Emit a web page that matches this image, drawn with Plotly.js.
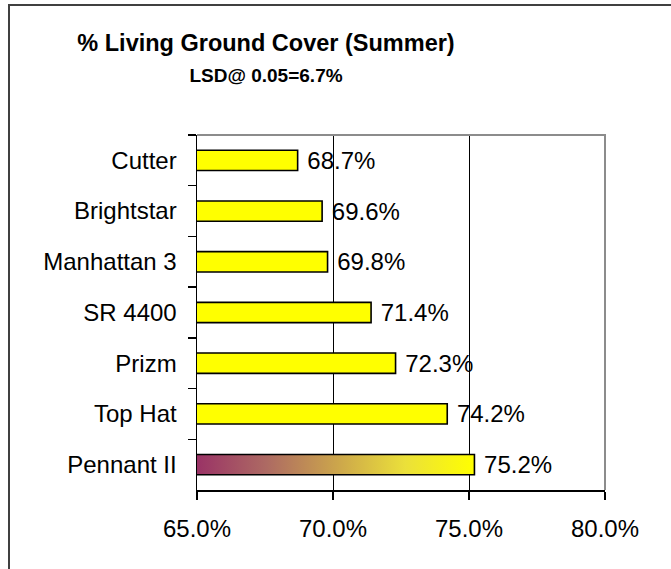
<!DOCTYPE html>
<html>
<head>
<meta charset="utf-8">
<script src="https://cdn.plot.ly/plotly-3.0.1.min.js"></script>
<style>
  html, body { margin: 0; padding: 0; background: #fff; }
  #wrap { position: relative; width: 671px; height: 569px; overflow: hidden; }
  #chart { width: 671px; height: 569px; }
  #frame { position: absolute; left: 8px; top: 4px; width: 700px; height: 600px;
           border-left: 2px solid #404040; border-top: 2px solid #404040; pointer-events: none; }
</style>
</head>
<body>
<div id="wrap">
  <div id="chart"></div>
  <div id="frame"></div>
</div>
<script>
const categories = ["Cutter", "Brightstar", "Manhattan 3", "SR 4400", "Prizm", "Top Hat", "Pennant II"];
const values = [68.7, 69.6, 69.8, 71.4, 72.3, 74.2, 75.2];
const tickValues = [65, 70, 75, 80];
const tickLabels = ["65.0%", "70.0%", "75.0%", "80.0%"];
const titleText = "% Living Ground Cover (Summer)";
const subtitleText = "LSD@ 0.05=6.7%";

const FONT = "Liberation Sans, Arial, sans-serif";

const trace = {
  type: "bar",
  orientation: "h",
  x: values,
  y: categories,
  width: 0.4,
  marker: { color: "#FFFF00", line: { color: "#000000", width: 1.6 } },
  text: values.map(v => "\u00a0" + v.toFixed(1) + "%"),
  textposition: "outside",
  constraintext: "none",
  cliponaxis: false,
  textfont: { family: FONT, size: 24, color: "#000" },
  outsidetextfont: { family: FONT, size: 24, color: "#000" },
  hoverinfo: "none"
};

const layout = {
  width: 671,
  height: 569,
  margin: { l: 197, r: 66, t: 135, b: 79, pad: 0 },
  paper_bgcolor: "#ffffff",
  plot_bgcolor: "#ffffff",
  showlegend: false,
  uniformtext: { mode: false },
  title: {
    text: "<b>" + titleText + "</b><br><span style=\"font-size:19px\"><b>" + subtitleText + "</b></span>",
    font: { family: FONT, size: 23.5, color: "#000" },
    xref: "container", x: 266 / 671, xanchor: "center",
    yref: "container", y: 1 - 51 / 569, yanchor: "top"
  },
  xaxis: {
    range: [65, 80],
    tickvals: tickValues,
    ticktext: tickLabels,
    showgrid: true,
    gridcolor: "#000000",
    gridwidth: 1,
    showline: true,
    linecolor: "#000000",
    linewidth: 1.5,
    ticks: "outside",
    ticklen: 8,
    tickwidth: 1.3,
    tickcolor: "#000",
    zeroline: false,
    tickfont: { family: FONT, size: 24, color: "#000" },
    ticklabelstandoff: 9,
    fixedrange: true
  },
  yaxis: {
    type: "category",
    autorange: "reversed",
    showgrid: false,
    showline: true,
    linecolor: "#000000",
    linewidth: 1.5,
    ticks: "outside",
    tickson: "boundaries",
    ticklen: 8,
    tickwidth: 1.3,
    tickcolor: "#000",
    zeroline: false,
    tickfont: { family: FONT, size: 24, color: "#000" },
    ticklabelstandoff: 14,
    fixedrange: true
  },
  shapes: [{
    type: "path", xref: "paper", yref: "paper",
    path: "M0,1 L1,1 L1,0",
    line: { color: "#8c8c8c", width: 2 },
    layer: "above"
  }],
  bargap: 0.6
};

Plotly.newPlot("chart", [trace], layout, { staticPlot: true, displayModeBar: false }).then(gd => {
  const svg = gd.querySelector("svg.main-svg");
  const ns = "http://www.w3.org/2000/svg";
  let defs = svg.querySelector("defs");
  if (!defs) { defs = document.createElementNS(ns, "defs"); svg.insertBefore(defs, svg.firstChild); }
  const grad = document.createElementNS(ns, "linearGradient");
  grad.setAttribute("id", "pennantGrad");
  [[0, "#9A3366"], [0.25, "#AD6A63"], [0.5, "#CBA44C"], [0.75, "#EBE03A"], [1, "#FFFF00"]].forEach(([o, c]) => {
    const s = document.createElementNS(ns, "stop");
    s.setAttribute("offset", o);
    s.setAttribute("stop-color", c);
    grad.appendChild(s);
  });
  defs.appendChild(grad);
  const paths = gd.querySelectorAll(".bars .point path");
  const idx = categories.indexOf("Pennant II");
  if (paths[idx]) {
    const xa = gd._fullLayout.xaxis;
    const bb = paths[idx].getBBox();
    const x0 = xa.l2p(xa.range[0]);
    const x1 = xa.l2p(values[idx]);
    grad.setAttribute("gradientUnits", "userSpaceOnUse");
    grad.setAttribute("x1", x0); grad.setAttribute("x2", x1);
    grad.setAttribute("y1", bb.y); grad.setAttribute("y2", bb.y);
    paths[idx].style.fill = "url(#pennantGrad)";
  }
});
</script>
</body>
</html>
